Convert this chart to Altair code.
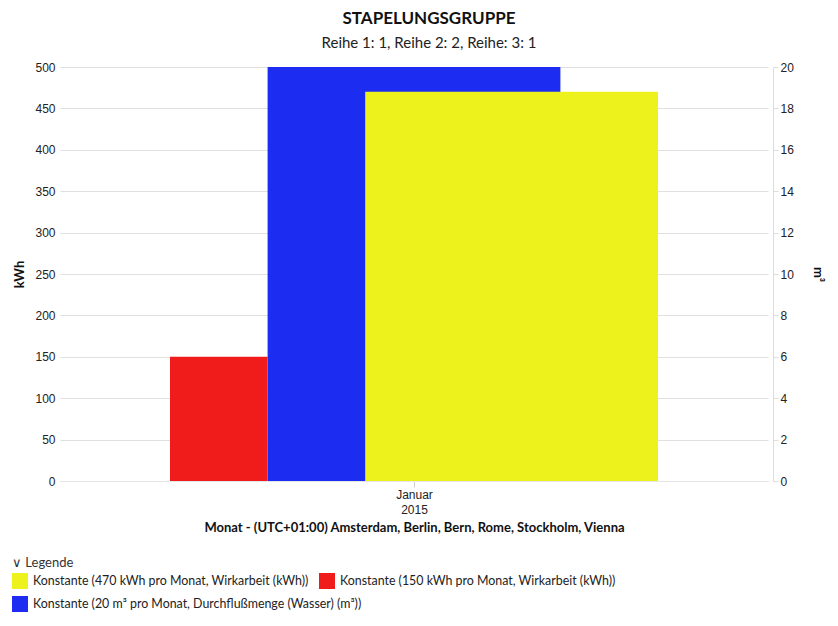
import altair as alt
import pandas as pd

# ==================== Daten ====================
series = [
    "Konstante (470 kWh pro Monat, Wirkarbeit (kWh))",
    "Konstante (150 kWh pro Monat, Wirkarbeit (kWh))",
    "Konstante (20 m³ pro Monat, Durchflußmenge (Wasser) (m³))",
]
values = [470, 150, 20]
units = ["kWh", "kWh", "m³"]
colors = ["#eef21c", "#f01c1c", "#1c2cf0"]
# Stapelungsgruppen-Slots (Start, Breite) innerhalb der Gruppe "Januar 2015"
slot_start = [-0.5, -2.5, -1.5]
slot_span = [3, 1, 3]

TITLE_FONT = "Lato"
TICK_FONT = "Liberation Sans"
HALF = 3.627  # halbe Achsenbreite in Slot-Einheiten

df = pd.DataFrame({
    "serie": series,
    "wert": values,
    "einheit": units,
    "x0": slot_start,
    "x1": [s + w for s, w in zip(slot_start, slot_span)],
})


def legend(title, y):
    # eine Legende pro Zeile, damit die Einträge fließend nebeneinander stehen
    opts = dict(
        orient="none",
        legendX=-48,
        legendY=y,
        direction="horizontal",
        columns=2,
        symbolType="square",
        symbolSize=256,
        symbolStrokeWidth=0,
        symbolOpacity=1,
        columnPadding=10,
        labelOffset=5,
        labelFont=TITLE_FONT,
        labelFontSize=12.4,
        labelColor="#222",
        labelLimit=500,
    )
    if title:
        opts.update(
            title=title,
            titleFont=TITLE_FONT,
            titleFontSize=13,
            titleFontWeight="normal",
            titleColor="#333",
            titlePadding=3,
        )
    else:
        opts.update(title=None)
    return alt.Legend(**opts)


def color_for(unit, leg):
    dom = [s for s, u in zip(series, units) if u == unit]
    rng = [c for c, u in zip(colors, units) if u == unit]
    return alt.Color("serie:N", scale=alt.Scale(domain=dom, range=rng), legend=leg)


x = alt.X(
    "x0:Q",
    scale=alt.Scale(domain=[-HALF, HALF], nice=False, zero=False),
    axis=alt.Axis(
        values=[0],
        labelExpr="['Januar', '2015']",
        labelLineHeight=15,
        labelFont=TICK_FONT,
        labelFontSize=12,
        labelColor="#222",
        tickColor="#ccc",
        tickSize=6,
        domainColor="#e6e6e6",
        grid=False,
        title="Monat - (UTC+01:00) Amsterdam, Berlin, Bern, Rome, Stockholm, Vienna",
        titleFont=TITLE_FONT,
        titleFontSize=13,
        titleFontWeight="bold",
        titleColor="#111",
        titlePadding=6,
    ),
)

wasser = alt.Chart(df).transform_filter(alt.datum.einheit == "m³").mark_bar().encode(
    x=x,
    x2="x1:Q",
    y=alt.Y(
        "wert:Q",
        scale=alt.Scale(domain=[0, 20], nice=False),
        axis=alt.Axis(
            orient="right",
            title="m³",
            values=list(range(0, 21, 2)),
            grid=False,
            offset=5,
            domainColor="#ddd",
            tickColor="#ddd",
            tickSize=5,
            labelFont=TICK_FONT,
            labelFontSize=12,
            labelColor="#222",
            titleFont=TITLE_FONT,
            titleFontSize=13,
            titleColor="#111",
            titlePadding=17,
        ),
    ),
    y2=alt.datum(0),
    color=color_for("m³", legend(None, 529)),
)

strom = alt.Chart(df).transform_filter(alt.datum.einheit == "kWh").mark_bar().encode(
    x=x,
    x2="x1:Q",
    y=alt.Y(
        "wert:Q",
        scale=alt.Scale(domain=[0, 500], nice=False),
        axis=alt.Axis(
            orient="left",
            title="kWh",
            values=list(range(0, 501, 50)),
            grid=True,
            gridColor="#e0e0e0",
            domain=False,
            ticks=False,
            labelPadding=5,
            labelFont=TICK_FONT,
            labelFontSize=12,
            labelColor="#222",
            titleFont=TITLE_FONT,
            titleFontSize=13,
            titleColor="#111",
            titlePadding=8,
        ),
    ),
    y2=alt.datum(0),
    color=color_for("kWh", legend("∨  Legende", 490)),
)

chart = alt.layer(wasser, strom).resolve_scale(
    y="independent", color="independent"
).properties(
    width=708,
    height=414,
    autosize=alt.AutoSizeParams(type="none"),
    padding={"left": 52, "top": 59, "right": 62, "bottom": 137},
    title=alt.TitleParams(
        text="STAPELUNGSGRUPPE",
        subtitle="Reihe 1: 1, Reihe 2: 2, Reihe: 3: 1",
        font=TITLE_FONT,
        fontSize=17,
        fontWeight="bold",
        color="#111",
        subtitleFont=TITLE_FONT,
        subtitleFontSize=15,
        subtitleColor="#222",
        subtitlePadding=8,
        anchor="middle",
        offset=9,
        dx=15,
    ),
).configure_view(stroke=None).configure_bar(strokeWidth=0)

chart.save("out.html", embed_options={"renderer": "svg", "actions": False})
